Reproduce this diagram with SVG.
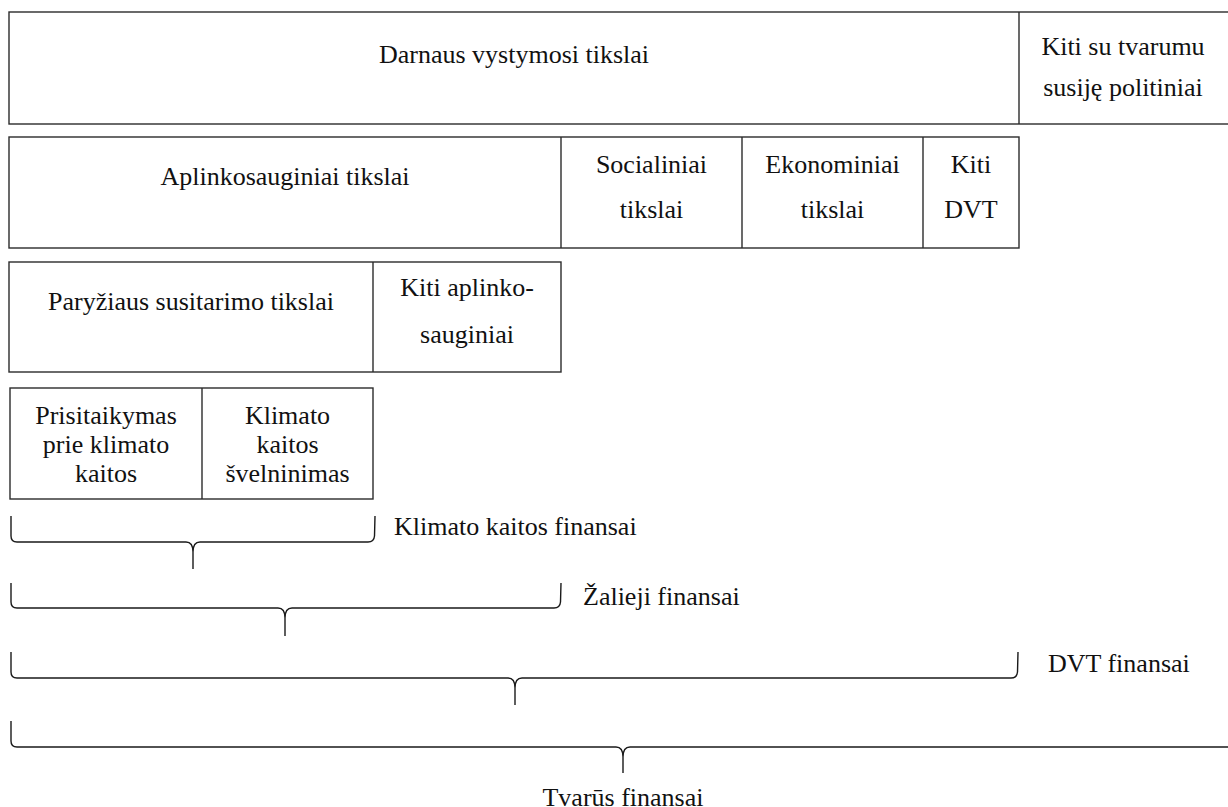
<svg xmlns="http://www.w3.org/2000/svg" width="1228" height="807" viewBox="0 0 1228 807">
<style>
.box{fill:#fff;stroke:#2b2b2b;stroke-width:1.4}
.ln{stroke:#2b2b2b;stroke-width:1.4;fill:none}
.t{font-family:'Liberation Serif','Times New Roman','DejaVu Serif',serif;font-size:26px;fill:#111}
.c{text-anchor:middle}
.br{fill:none;stroke:#1a1a1a;stroke-width:1.4}
</style>
<rect width="1228" height="807" fill="#fff"/>
<g id="row1">
<rect class="box" x="9" y="12" width="1230" height="112"/>
<line class="ln" x1="1019" y1="12" x2="1019" y2="124"/>
<text class="t c" font-family="Liberation Serif, serif" x="514" y="63">Darnaus vystymosi tikslai</text>
<text class="t c" font-family="Liberation Serif, serif" x="1123" y="55">Kiti su tvarumu</text>
<text class="t c" font-family="Liberation Serif, serif" x="1123" y="96">susiję politiniai</text>
</g>
<g id="row2">
<rect class="box" x="9" y="137" width="1010" height="111"/>
<line class="ln" x1="561" y1="137" x2="561" y2="248"/>
<line class="ln" x1="742" y1="137" x2="742" y2="248"/>
<line class="ln" x1="923" y1="137" x2="923" y2="248"/>
<text class="t c" font-family="Liberation Serif, serif" x="285" y="185">Aplinkosauginiai tikslai</text>
<text class="t c" font-family="Liberation Serif, serif" x="651.5" y="173">Socialiniai</text>
<text class="t c" font-family="Liberation Serif, serif" x="651.5" y="218">tikslai</text>
<text class="t c" font-family="Liberation Serif, serif" x="832.5" y="173">Ekonominiai</text>
<text class="t c" font-family="Liberation Serif, serif" x="832.5" y="218">tikslai</text>
<text class="t c" font-family="Liberation Serif, serif" x="971" y="173">Kiti</text>
<text class="t c" font-family="Liberation Serif, serif" x="971" y="218">DVT</text>
</g>
<g id="row3">
<rect class="box" x="9" y="262" width="552" height="110"/>
<line class="ln" x1="373" y1="262" x2="373" y2="372"/>
<text class="t c" font-family="Liberation Serif, serif" x="191" y="310">Paryžiaus susitarimo tikslai</text>
<text class="t c" font-family="Liberation Serif, serif" x="467" y="296">Kiti aplinko-</text>
<text class="t c" font-family="Liberation Serif, serif" x="467" y="343">sauginiai</text>
</g>
<g id="row4">
<rect class="box" x="10" y="388" width="363" height="111"/>
<line class="ln" x1="202" y1="388" x2="202" y2="499"/>
<text class="t c" font-family="Liberation Serif, serif" x="106" y="424">Prisitaikymas</text>
<text class="t c" font-family="Liberation Serif, serif" x="106" y="453">prie klimato</text>
<text class="t c" font-family="Liberation Serif, serif" x="106" y="482">kaitos</text>
<text class="t c" font-family="Liberation Serif, serif" x="287.5" y="424">Klimato</text>
<text class="t c" font-family="Liberation Serif, serif" x="287.5" y="453">kaitos</text>
<text class="t c" font-family="Liberation Serif, serif" x="287.5" y="482">švelninimas</text>
</g>
<g id="connectors">
<path class="br" d="M11,516 L11,536 Q11,542 17,542 L186,542 Q193,542 193,552 L193,569 M193,552 Q193,542 200,542 L368,542 Q374,542 374.5,536 L375,516"/>
<path class="br" d="M11,583 L11,602 Q11,608 17,608 L278,608 Q285,608 285,618 L285,636 M285,618 Q285,608 292,608 L554,608 Q560,608 560.5,602 L561,583"/>
<path class="br" d="M11,652 L11,672 Q11,678 17,678 L508,678 Q515,678 515,688 L515,705 M515,688 Q515,678 522,678 L1011,678 Q1017,678 1017.5,672 L1018,652"/>
<path class="br" d="M11,721 L11,741 Q11,747 17,747 L616,747 Q623,747 623,757 L623,773 M623,757 Q623,747 630,747 L1240,747"/>
</g>
<g id="labels">
<text class="t" font-family="Liberation Serif, serif" x="394" y="535">Klimato kaitos finansai</text>
<text class="t" font-family="Liberation Serif, serif" x="583" y="605">Žalieji finansai</text>
<text class="t" font-family="Liberation Serif, serif" x="1048" y="672">DVT finansai</text>
<text class="t c" font-family="Liberation Serif, serif" x="623" y="806">Tvarūs finansai</text>
</g>
</svg>
